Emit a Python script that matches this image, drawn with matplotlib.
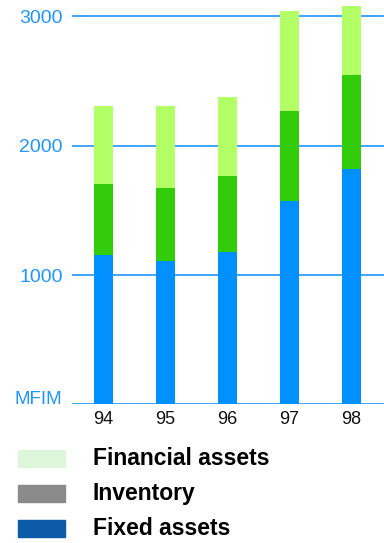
import numpy as np
import matplotlib.pyplot as plt
from matplotlib.patches import Rectangle

years = ["94", "95", "96", "97", "98"]
fixed_assets = [1155, 1108, 1181, 1572, 1820]
inventory = [549, 565, 585, 696, 727]
financial_assets = [603, 634, 611, 774, 533]

legend_labels = ["Financial assets", "Inventory", "Fixed assets"]
legend_colors = ["#DDF6DC", "#8A8A8A", "#0B5BA8"]

BLUE = "#0090FF"
GREEN = "#33CC0A"
LIGHT = "#B3FF66"
AXIS_BLUE = "#1E96FF"

fig = plt.figure(figsize=(3.84, 5.43), dpi=100)
ax = fig.add_axes([72 / 384, 138.7 / 543, 312 / 384, 404.3 / 543])

x = np.arange(len(years))
w = 19 / 62
fixed = np.array(fixed_assets)
inv = np.array(inventory)
fin = np.array(financial_assets)
ax.bar(x, fixed, w, color=BLUE, zorder=3)
ax.bar(x, inv, w, bottom=fixed, color=GREEN, zorder=3)
ax.bar(x, fin, w, bottom=fixed + inv, color=LIGHT, zorder=3)

for v in [0, 1000, 2000, 3000]:
    ax.axhline(v, color=AXIS_BLUE, lw=1.2, zorder=1)

ax.set_xlim(-0.508, 4.524)
ax.set_ylim(0, 3127)
for s in ax.spines.values():
    s.set_visible(False)

ax.set_yticks([1000, 2000, 3000])
ax.set_yticklabels(["1000", "2000", "3000"], color=AXIS_BLUE,
                   fontsize=14, family="Liberation Sans")
ax.tick_params(axis="y", length=0, pad=6.5)
ax.text(-0.508 - 10 / 62, 0, "MFIM", color=AXIS_BLUE, fontsize=13.5,
        family="Liberation Sans", ha="right", va="baseline")

ax.set_xticks(x)
ax.set_xticklabels(years, fontsize=13, family="Liberation Sans", color="#111111")
ax.tick_params(axis="x", length=0, pad=5)

# legend drawn in figure pixels
ys = [450, 485, 520]
for lab, col, y0 in zip(legend_labels, legend_colors, ys):
    fig.patches.append(Rectangle((18 / 384, 1 - (y0 + 16.5) / 543), 47 / 384, 16.5 / 543,
                                 transform=fig.transFigure, color=col))
    fig.text(93 / 384, 1 - (y0 + 8.5) / 543, lab, fontsize=16.5, fontweight="bold",
             family="Liberation Sans", va="center", ha="left", color="black")

fig.savefig("out.png", dpi=100)
